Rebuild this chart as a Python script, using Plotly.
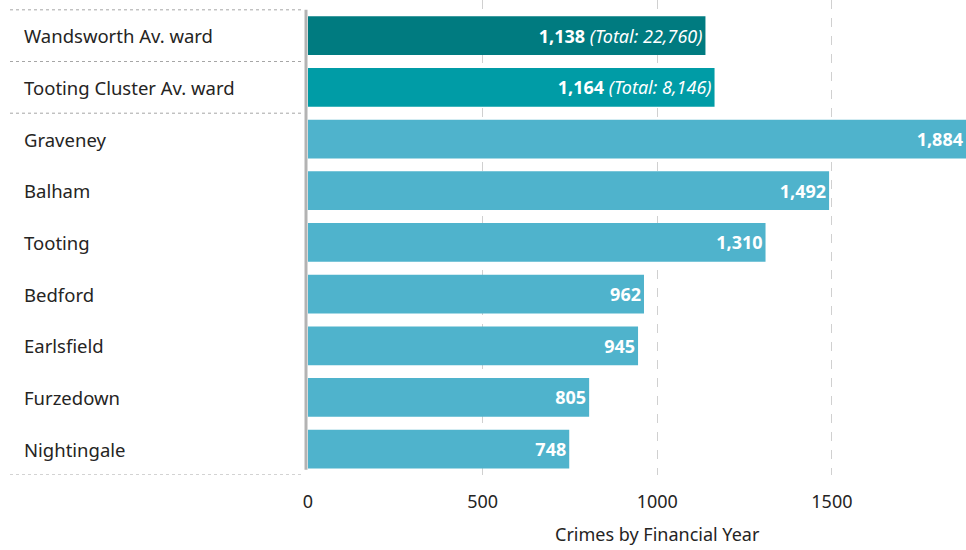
import plotly.graph_objects as go

wards = [
    'Wandsworth Av. ward',
    'Tooting Cluster Av. ward',
    'Graveney',
    'Balham',
    'Tooting',
    'Bedford',
    'Earlsfield',
    'Furzedown',
    'Nightingale'
]
crimes = [1138, 1164, 1884, 1492, 1310, 962, 945, 805, 748]
totals = [22760, 8146, None, None, None, None, None, None, None]
barColours = ['#007b80', '#009ca6'] + ['#4fb3cc'] * 7
tickVals = [0, 500, 1000, 1500]
axisTitle = "Crimes by Financial Year"

fontName = "Noto Sans"
textColour = "#252423"
plotLeft = 308
plotWidth = 966 - plotLeft

labels = []
for v, t in zip(crimes, totals):
    s = "<b>{:,}</b>".format(v)
    if t is not None:
        s += " <i>(Total: {:,})</i>".format(t)
    labels.append(s)

fig = go.Figure()
fig.add_trace(go.Bar(
    y=wards, x=crimes, orientation='h',
    marker=dict(color=barColours, line=dict(width=0)),
    text=labels, textposition='inside', insidetextanchor='end',
    textfont=dict(family=fontName, size=18, color='white'),
    cliponaxis=False, hoverinfo='skip'
))

# left aligned row labels
for w in wards:
    fig.add_annotation(x=-(plotLeft - 22) / plotWidth, xref='paper', y=w, yref='y',
                       text=w, showarrow=False, xanchor='left',
                       font=dict(family=fontName, size=18.5, color=textColour))

# dotted separators around the two average rows
for yPos in [-0.5, 0.5, 1.5, 8.5]:
    fig.add_shape(type='line', xref='paper', yref='y',
                  x0=-(plotLeft - 10) / plotWidth, x1=-6 / plotWidth, y0=yPos, y1=yPos,
                  line=dict(color='#a6a6a6', width=1, dash='dot'))

# grey divider between labels and bars
fig.add_shape(type='line', xref='paper', yref='y',
              x0=-2 / plotWidth, x1=-2 / plotWidth, y0=-0.5, y1=8.4,
              line=dict(color='#b3b3b3', width=3))

fig.add_annotation(x=(657 - plotLeft) / plotWidth, xref='paper', y=-0.125, yref='paper',
                   text=axisTitle, showarrow=False, xanchor='center', yanchor='middle',
                   font=dict(family=fontName, size=18, color=textColour))

fig.update_layout(
    width=966, height=550,
    margin=dict(l=plotLeft, r=0, t=0, b=75),
    paper_bgcolor='white', plot_bgcolor='white',
    bargap=0.25, showlegend=False,
    font=dict(family=fontName, size=18, color=textColour),
    xaxis=dict(range=[0, 1884], tickvals=tickVals, ticktext=[str(t) for t in tickVals],
               showgrid=True, gridcolor='#d0d0d0', griddash='dash', gridwidth=1,
               zeroline=False, showline=False, ticklabelstandoff=14,
               tickfont=dict(family=fontName, size=18, color=textColour)),
    yaxis=dict(range=[8.5, -0.69], showticklabels=False, showgrid=False,
               zeroline=False, showline=False)
)

fig.write_html("out.html", config={'displayModeBar': False},
               post_script="document.body.style.margin='0';")
